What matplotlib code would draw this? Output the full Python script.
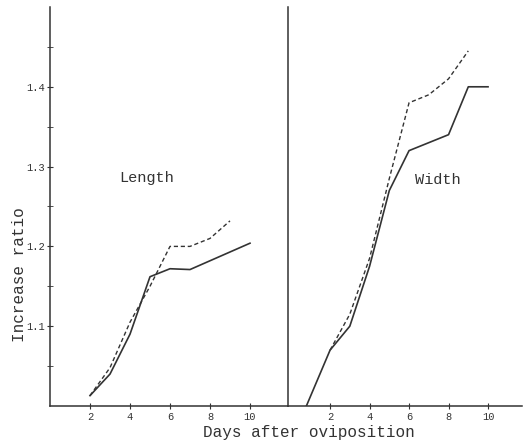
import matplotlib
matplotlib.use('Agg')
import matplotlib.pyplot as plt

plt.rcParams['font.family'] = ['Liberation Mono', 'DejaVu Sans Mono']

# Length panel
len_days_solid = [2, 3, 4, 5, 6, 7, 10]
len_solid = [1.013, 1.04, 1.09, 1.162, 1.172, 1.171, 1.204]
len_days_dash = [2, 3, 4, 5, 6, 7, 8, 9]
len_dash = [1.013, 1.048, 1.105, 1.15, 1.20, 1.20, 1.21, 1.232]

# Width panel
wid_days_solid = [0.8, 2, 3, 4, 5, 6, 8, 9, 10]
wid_solid = [1.0, 1.07, 1.10, 1.175, 1.27, 1.32, 1.34, 1.40, 1.40]
wid_days_dash = [2, 3, 4, 5, 6, 7, 8, 9]
wid_dash = [1.07, 1.115, 1.185, 1.285, 1.38, 1.39, 1.41, 1.445]

x_ticks = [2, 4, 6, 8, 10]
y_major = [1.1, 1.2, 1.3, 1.4]
y_labels = ['1.1', '1.2', '1.3', '1.4']
y_minor = [1.05, 1.15, 1.25, 1.35, 1.45]

ink = '#333333'
fig = plt.figure(figsize=(5.28, 4.46), dpi=100)
bot = 40 / 446
h = 399 / 446
ax1 = fig.add_axes([50 / 528, bot, 238 / 528, h])
ax2 = fig.add_axes([288 / 528, bot, 234 / 528, h])

for ax in (ax1, ax2):
    for s in ('top', 'right'):
        ax.spines[s].set_visible(False)
    ax.spines['left'].set_color(ink)
    ax.spines['bottom'].set_color(ink)
    ax.spines['left'].set_linewidth(1.1)
    ax.spines['bottom'].set_linewidth(1.1)
    ax.set_ylim(1.0, 1.5)
    ax.set_xticks(x_ticks)
    ax.set_xticklabels([str(t) for t in x_ticks], fontsize=7.5, color=ink)
    ax.tick_params(axis='x', direction='inout', length=5, color=ink, pad=2)

ax1.set_xlim(0, 11.9)
ax2.set_xlim(-0.13, 11.72)

ax1.set_yticks(y_major)
ax1.set_yticklabels(y_labels, fontsize=7.5, color=ink)
ax1.set_yticks(y_minor, minor=True)
ax1.tick_params(axis='y', which='both', direction='inout', length=5, color=ink, pad=1)
ax2.set_yticks([])

ax1.plot(len_days_solid, len_solid, color=ink, lw=1.2)
ax1.plot(len_days_dash, len_dash, color=ink, lw=1.0, dashes=(3, 2))
ax2.plot(wid_days_solid, wid_solid, color=ink, lw=1.2)
ax2.plot(wid_days_dash, wid_dash, color=ink, lw=1.0, dashes=(3, 2))

ax1.text(4.85, 1.286, 'Length', fontsize=11, color=ink, ha='center', va='center')
ax2.text(7.47, 1.283, 'Width', fontsize=11, color=ink, ha='center', va='center')

fig.text(20 / 528, (446 - 275) / 446, 'Increase ratio', rotation=90,
         fontsize=11.5, color=ink, ha='center', va='center')
fig.text(309 / 528, (446 - 432) / 446, 'Days after oviposition',
         fontsize=11.5, color=ink, ha='center', va='center')

fig.savefig('out.png', dpi=100, facecolor='white')
